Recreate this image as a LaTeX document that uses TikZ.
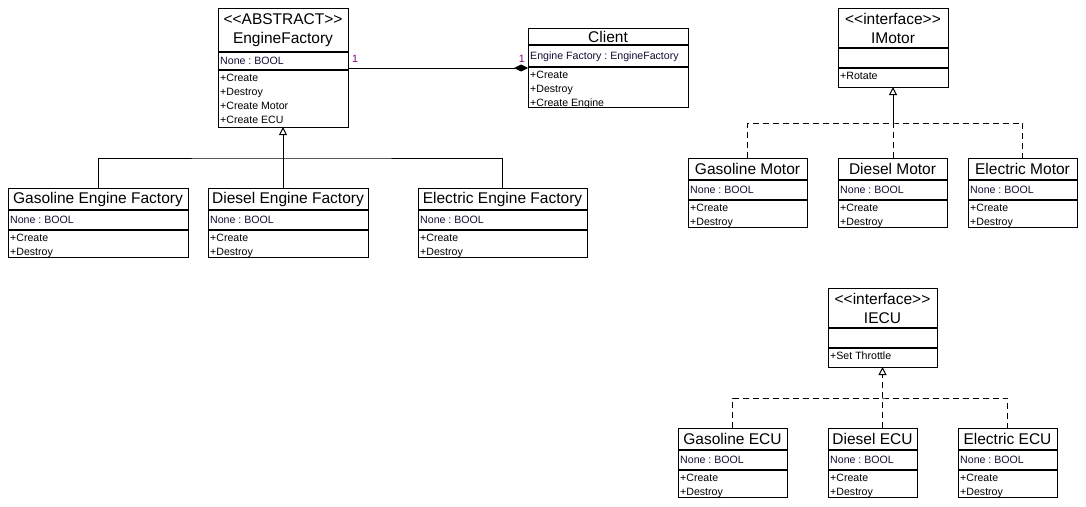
\documentclass[tikz,border=0pt]{standalone}
\usepackage{fontspec}
\setmainfont{Liberation Sans}
\usetikzlibrary{arrows.meta}
\frenchspacing

\definecolor{attrtext}{RGB}{18,14,50}
\definecolor{multcol}{RGB}{128,0,128}

\tikzset{
  classbox/.style={draw, line width=1pt, inner sep=0pt, outer sep=0pt},
  sepline/.style={line width=2pt},
  titletext/.style={font=\fontsize{15.5}{19}\selectfont, align=center, inner sep=0pt},
  attrline/.style={font=\fontsize{10.6}{12}\selectfont, text=attrtext, inner sep=0pt, anchor=base west},
  opline/.style={font=\fontsize{10.6}{12}\selectfont, inner sep=0pt, anchor=base west},
  link/.style={line width=1pt},
  realize/.style={line width=1pt, dash pattern=on 6pt off 4pt},
  openhead/.style={-{Triangle[open, length=8pt, width=8pt]}},
  composite/.style={-{Diamond[length=14pt, width=7pt]}},
  mult/.style={font=\fontsize{10.6}{12}\selectfont, text=multcol, inner sep=0pt}
}

% geometry: left/top/width/title height/attribute height/operation height
\def\umlgeom#1/#2/#3/#4/#5/#6\relax{\def\cx{#1}\def\cy{#2}\def\cw{#3}\def\ha{#4}\def\hb{#5}\def\hc{#6}}
% \umlclass{name}{geometry}{title}{attributes}{operations}
\newcommand\umlclass[5]{%
  \umlgeom#2\relax
  \pgfmathsetmacro\ctot{\ha+\hb+\hc}%
  \pgfmathsetmacro\ya{\ha}%
  \pgfmathsetmacro\yb{\ha+\hb}%
  \pgfmathsetmacro\ytitle{\ha/2}%
  \pgfmathsetmacro\yattr{\ha+\hb/2+3.8}%
  \node[classbox, anchor=north west, minimum width=\cw pt, minimum height=\ctot pt] (#1) at (\cx,\cy) {};
  \draw[sepline] ([yshift=-\ya pt]#1.north west) -- ([yshift=-\ya pt]#1.north east);
  \draw[sepline] ([yshift=-\yb pt]#1.north west) -- ([yshift=-\yb pt]#1.north east);
  \node[titletext] (#1-title) at ([yshift=-\ytitle pt]#1.north) {#3};
  \node[attrline] (#1-attr) at ([xshift=2pt, yshift=-\yattr pt]#1.north west) {#4};
  \foreach \op [count=\i] in {#5} {
    \pgfmathsetmacro\yop{\yb+11+14*(\i-1)}
    \node[opline] (#1-op\i) at ([xshift=2pt, yshift=-\yop pt]#1.north west) {\op};
  }
}

\begin{document}
\begin{tikzpicture}[x=1pt, y=-1pt]
\fill[white] (0,0) rectangle (1086,506);
\useasboundingbox (0,0) rectangle (1086,506);

% engine factories
\umlclass{EF}{218/8/130/44/18/57}{<{}<ABSTRACT>{}>\\EngineFactory}{None : BOOL}{+Create,+Destroy,+Create Motor,+Create ECU}
\umlclass{Client}{528/28/160/17/22/40}{Client}{Engine Factory : EngineFactory}{+Create,+Destroy,+Create Engine}
\umlclass{GEF}{8/188/180/22/20/27}{Gasoline Engine Factory}{None : BOOL}{+Create,+Destroy}
\umlclass{DEF}{208/188/160/22/20/27}{Diesel Engine Factory}{None : BOOL}{+Create,+Destroy}
\umlclass{EEF}{418/188/169/22/20/27}{Electric Engine Factory}{None : BOOL}{+Create,+Destroy}

% motors
\umlclass{IMotor}{838/8/110/40/20/19}{<{}<interface>{}>\\IMotor}{}{+Rotate}
\umlclass{GM}{688/158/119/22/20/27}{Gasoline Motor}{None : BOOL}{+Create,+Destroy}
\umlclass{DM}{838/158/109/22/20/27}{Diesel Motor}{None : BOOL}{+Create,+Destroy}
\umlclass{EM}{968/158/109/22/20/27}{Electric Motor}{None : BOOL}{+Create,+Destroy}

% engine control units
\umlclass{IECU}{828/288/109/40/20/19}{<{}<interface>{}>\\IECU}{}{+Set Throttle}
\umlclass{GE}{678/428/109/22/20/27}{Gasoline ECU}{None : BOOL}{+Create,+Destroy}
\umlclass{DE}{828/428/89/22/20/27}{Diesel ECU}{None : BOOL}{+Create,+Destroy}
\umlclass{EE}{958/428/99/22/20/27}{Electric ECU}{None : BOOL}{+Create,+Destroy}

% composition between factory and client
\draw[link, composite] ([yshift=-60pt]EF.north east) -- ([yshift=-40pt]Client.north west);
\node[mult, anchor=base west] (multEF) at ([xshift=4pt, yshift=-54pt]EF.north east) {1};
\node[mult, anchor=base east] (multClient) at ([xshift=-3pt, yshift=-34pt]Client.north west) {1};

% factory inheritance
\coordinate (fbar) at (283,158);
\draw[link] (GEF.north) |- (fbar) -| (EEF.north);
\draw[link, openhead] (EF.south |- DEF.north) -- (EF.south);

% motor realization
\coordinate (mbar) at (893,123);
\draw[realize] (GM.north) |- (mbar) -| (EM.north);
\draw[realize] (DM.north -| mbar) -- (mbar);
\draw[link, openhead] (mbar) -- (IMotor.south);

% ECU realization
\coordinate (ebar) at (882.5,398);
\draw[realize] (GE.north) |- (ebar) -| (EE.north);
\draw[realize] (DE.north -| ebar) -- (ebar);
\draw[realize, openhead] (ebar) -- (IECU.south);
\end{tikzpicture}
\end{document}
